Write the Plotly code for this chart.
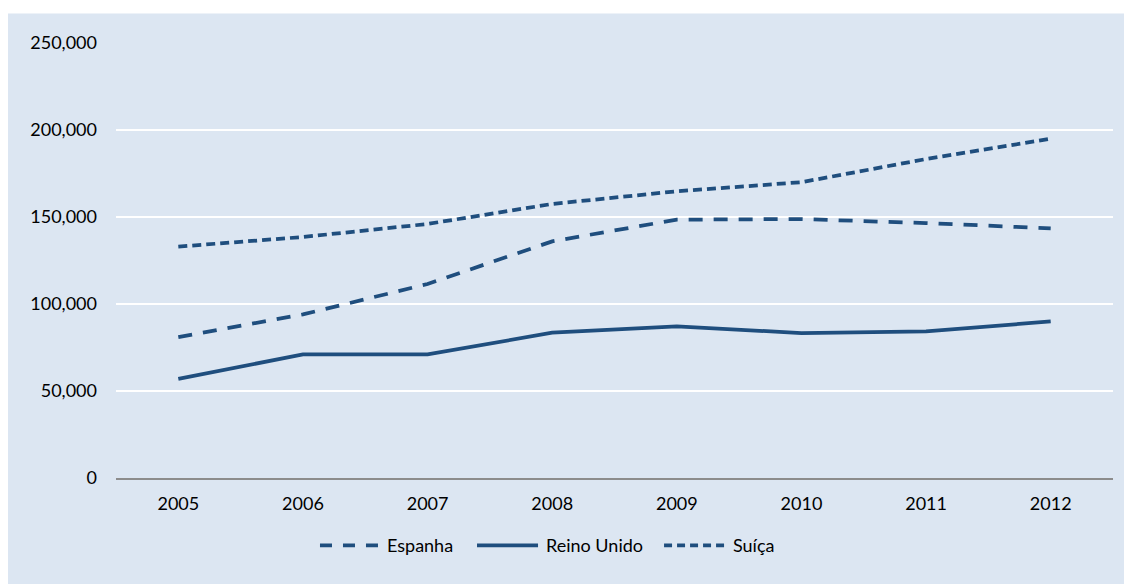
import plotly.graph_objects as go

years = ["2005", "2006", "2007", "2008", "2009", "2010", "2011", "2012"]
espanha = [81000, 94000, 111500, 136000, 148500, 148800, 146500, 143500]
reino_unido = [57000, 71000, 71000, 83500, 87200, 83300, 84200, 90000]
suica = [133000, 138500, 146000, 157500, 164800, 170000, 183300, 195000]
y_ticks = [0, 50000, 100000, 150000, 200000, 250000]
y_tick_labels = ["0", "50,000", "100,000", "150,000", "200,000", "250,000"]

series_names = ["Espanha", "Reino Unido", "Suíça"]
series_values = [espanha, reino_unido, suica]
series_dash = ["14px,11px", "solid", "9px,5px"]

line_color = "#1F4E7E"
font_family = "Lato, 'Open Sans', sans-serif"

fig = go.Figure()
for name, vals, dash in zip(series_names, series_values, series_dash):
    fig.add_trace(go.Scatter(x=years, y=vals, name=name, mode="lines",
                             line=dict(color=line_color, width=3.75, dash=dash)))

# custom legend (long line samples like the reference)
legend_y = -0.1547
legend_line_x = [(0.2046, 0.2638), (0.3621, 0.4233), (0.5497, 0.6108)]
legend_dash = ["12px,11px", "solid", "8px,5px"]
shapes = [dict(type="rect", xref="paper", yref="paper", x0=-0.2, x1=1.05,
               y0=-0.3, y1=1.068, fillcolor="#DCE6F2", line=dict(width=0),
               layer="below")]
annotations = []
for name, (x0, x1), dash in zip(series_names, legend_line_x, legend_dash):
    shapes.append(dict(type="line", xref="paper", yref="paper", x0=x0, x1=x1,
                       y0=legend_y, y1=legend_y,
                       line=dict(color=line_color, width=3.75, dash=dash)))
    annotations.append(dict(text=name, xref="paper", yref="paper", x=x1 + 0.006,
                            y=legend_y, xanchor="left", yanchor="middle",
                            showarrow=False, font=dict(size=18, color="#000000")))

fig.update_layout(
    width=1124, height=576,
    margin=dict(l=108, r=19, t=35, b=106),
    paper_bgcolor="white",
    plot_bgcolor="rgba(0,0,0,0)",
    font=dict(family=font_family, size=18, color="#000000"),
    showlegend=False,
    shapes=shapes,
    annotations=annotations,
    xaxis=dict(type="category", range=[-0.5, 7.5], showgrid=False, zeroline=False,
               showline=True, linecolor="#8C8C8C", linewidth=1.5, ticks="",
               ticklabelstandoff=9, tickfont=dict(size=18)),
    yaxis=dict(range=[0, 250000], tickvals=y_ticks, ticktext=y_tick_labels,
               showgrid=True, gridcolor="white", gridwidth=1.5, zeroline=False,
               showline=False, ticks="", ticklabelstandoff=18, tickfont=dict(size=18)),
)

fig.write_html("out.html")
